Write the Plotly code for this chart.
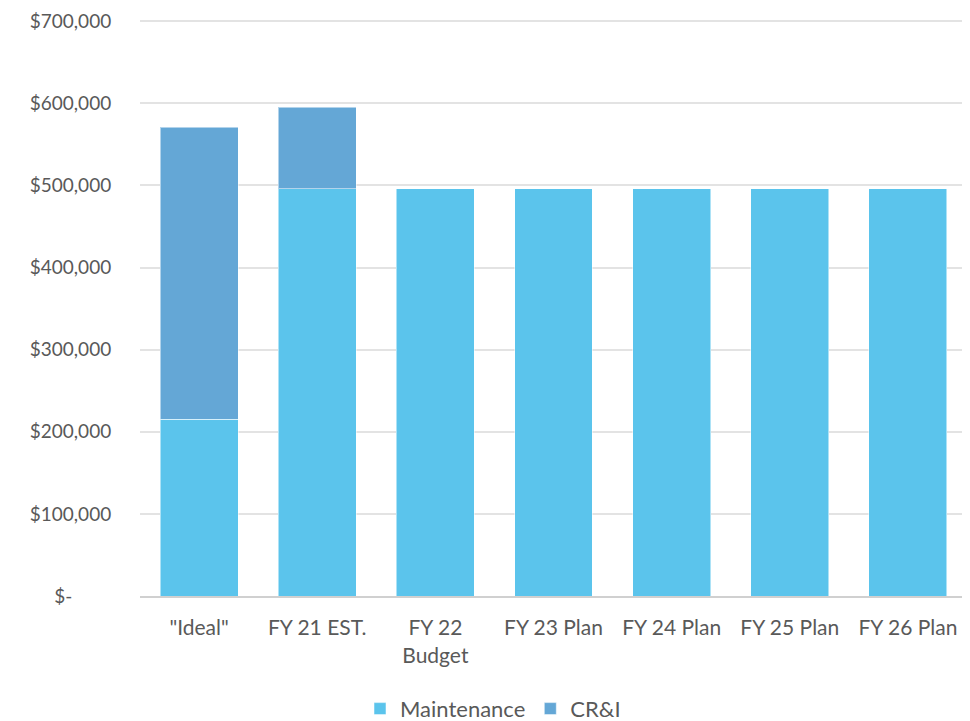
import plotly.graph_objects as go

categories = ['"Ideal"', 'FY 21 EST.', 'FY 22<br>Budget', 'FY 23 Plan', 'FY 24 Plan', 'FY 25 Plan', 'FY 26 Plan']
maintenance = [215000, 496000, 496000, 496000, 496000, 496000, 496000]
cri = [356000, 99000, 0, 0, 0, 0, 0]
tick_vals = [0, 100000, 200000, 300000, 400000, 500000, 600000, 700000]
tick_text = ['$-        ', '$100,000', '$200,000', '$300,000', '$400,000', '$500,000', '$600,000', '$700,000']

font_family = "Lato, 'Open Sans', sans-serif"
gray = '#595959'

fig = go.Figure()
fig.add_trace(go.Bar(x=categories, y=maintenance, name='Maintenance',
                     marker=dict(color='#5BC4EC', line=dict(color='rgba(255,255,255,0.5)', width=1))))
fig.add_trace(go.Bar(x=categories, y=cri, name='CR&I',
                     marker=dict(color='#64A7D6', line=dict(color='rgba(255,255,255,0.5)', width=1))))

fig.update_layout(
    barmode='stack', bargap=0.34,
    width=970, height=721,
    margin=dict(l=132, r=11, t=10, b=133),
    plot_bgcolor='white', paper_bgcolor='white',
    font=dict(family=font_family, size=19, color=gray),
    showlegend=True,
    legend=dict(orientation='h', x=0.5, xanchor='center', xref='container',
                y=0.028, yanchor='middle', yref='container', traceorder='normal',
                font=dict(size=22, color=gray), tracegroupgap=0),
)
fig.update_yaxes(range=[0, 704000], tickvals=tick_vals, ticktext=tick_text,
                 showgrid=True, gridcolor='#E3E3E3', gridwidth=1.5, zeroline=False,
                 ticks='outside', ticklen=24, tickcolor='rgba(0,0,0,0)', showline=False,
                 automargin=False, tickfont=dict(size=19), ticklabeloverflow='allow')
fig.update_xaxes(showline=True, linecolor='#D0D0D0', linewidth=2, ticks='outside', ticklen=12,
                 tickcolor='rgba(0,0,0,0)', tickfont=dict(size=21), automargin=False)

fig.write_html("out.html")
